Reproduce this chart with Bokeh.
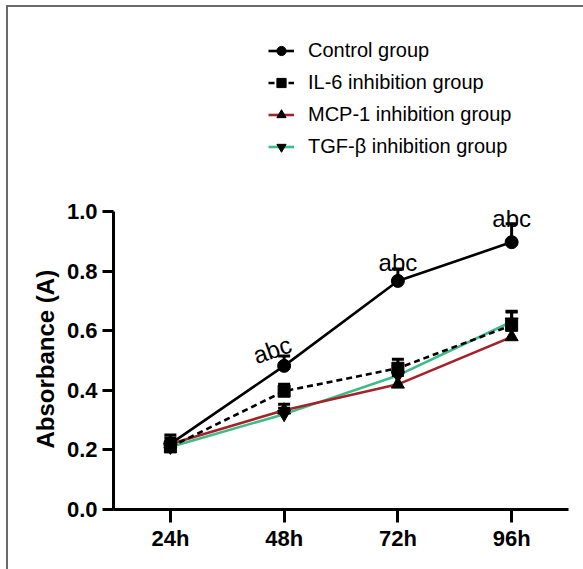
from bokeh.plotting import figure
from bokeh.models import (Range1d, FixedTicker, Whisker, ColumnDataSource, TeeHead,
                          Legend, LegendItem, Label, PrintfTickFormatter, Title)
from bokeh.embed import file_html
from bokeh.resources import INLINE

# ---- data ----
categories = ["24h", "48h", "72h", "96h"]
x_pos = [1, 2, 3, 4]
control = [0.22, 0.482, 0.767, 0.897]
control_err = [0.03, 0.033, 0.04, 0.062]
il6 = [0.21, 0.397, 0.474, 0.618]
il6_err = [0.02, 0.023, 0.03, 0.045]
mcp1 = [0.22, 0.333, 0.42, 0.579]
mcp1_err = [0.02, 0.02, 0.03, 0.03]
tgfb = [0.21, 0.32, 0.45, 0.63]
tgfb_err = [0.01, 0.02, 0.03, 0.035]
y_ticks = [0.0, 0.2, 0.4, 0.6, 0.8, 1.0]
y_label = "Absorbance (A)"
annot_idx = [1, 2, 3]
annot_text = ["abc", "abc", "abc"]

FONT = "Liberation Sans"
RED = "#A3232A"
GREEN = "#3DBB88"
FRAME_GRAY = "#6a6a6a"

FRAME_H = 501          # frame covers the top area too (legend / labels not clipped)
PX_PER_UNIT = 298.0    # pixels per 1.0 absorbance

p = figure(width=583, height=569, output_backend="svg", toolbar_location=None,
           x_range=Range1d(0.5, 4.5), y_range=Range1d(0.0, FRAME_H / PX_PER_UNIT),
           frame_width=455, frame_height=FRAME_H,
           min_border_left=113, min_border_right=15, min_border_top=8, min_border_bottom=60)
p.outline_line_color = None
p.grid.visible = False
p.background_fill_color = "white"
p.border_fill_color = None
p.styles = {
    "background-color": "white",
    "background-image": f"linear-gradient({FRAME_GRAY}, {FRAME_GRAY}), linear-gradient({FRAME_GRAY}, {FRAME_GRAY})",
    "background-size": "2px 100%, 100% 2px",
    "background-position": "6px 5px, 6px 5px",
    "background-repeat": "no-repeat",
}

# axes
p.xaxis.ticker = FixedTicker(ticks=x_pos)
p.xaxis.major_label_overrides = {x: c for x, c in zip(x_pos, categories)}
p.yaxis.ticker = FixedTicker(ticks=y_ticks)
p.yaxis.bounds = (y_ticks[0], y_ticks[-1])
p.yaxis.formatter = PrintfTickFormatter(format="%.1f")
for ax in (p.xaxis, p.yaxis):
    ax.axis_line_width = 3
    ax.axis_line_color = "black"
    ax.major_tick_line_width = 3
    ax.major_tick_line_color = "black"
    ax.major_tick_in = 0
    ax.minor_tick_line_color = None
    ax.major_label_text_font = FONT
    ax.major_label_text_font_style = "bold"
    ax.major_label_text_font_size = "22px"
    ax.major_label_text_color = "black"
p.xaxis.major_tick_out = 13
p.yaxis.major_tick_out = 11
p.xaxis.major_label_standoff = 3
p.yaxis.major_label_standoff = 5

# y axis title, centred on the 0..1 part of the axis
ytitle = Title(text=y_label, align="left", offset=61, standoff=10,
               text_font=FONT, text_font_style="bold", text_font_size="24px",
               text_color="black")
p.add_layout(ytitle, "left")

# lines
l_tgf = p.line(x_pos, tgfb, line_color=GREEN, line_width=2.6)
l_mcp = p.line(x_pos, mcp1, line_color=RED, line_width=2.6)
l_il6 = p.line(x_pos, il6, line_color="black", line_width=2.6, line_dash="6 4")
l_ctl = p.line(x_pos, control, line_color="black", line_width=2.6)

# error bars (upper only)
for vals, errs in ((tgfb, tgfb_err), (mcp1, mcp1_err), (il6, il6_err), (control, control_err)):
    src = ColumnDataSource(dict(x=x_pos, lo=vals, hi=[v + e for v, e in zip(vals, errs)]))
    w = Whisker(base="x", lower="lo", upper="hi", source=src, dimension="height",
                line_color="black", line_width=3,
                upper_head=TeeHead(size=12, line_width=3, line_color="black"),
                lower_head=None, level="glyph")
    p.add_layout(w)

# markers
m_tgf = p.scatter(x_pos, tgfb, marker="inverted_triangle", size=13, color="black")
m_mcp = p.scatter(x_pos, mcp1, marker="triangle", size=13, color="black")
m_il6 = p.scatter(x_pos, il6, marker="square", size=12, color="black")
m_ctl = p.scatter(x_pos, control, marker="circle", size=13, color="black")

# significance annotations
annot_dx = [-12, 0, 0]
annot_dy = [16, 7, 5]
annot_angle = [0.34, 0.0, 0.0]
annot_base = ["middle", "alphabetic", "alphabetic"]
for i, t, dx, dy, ang, bl in zip(annot_idx, annot_text, annot_dx, annot_dy, annot_angle, annot_base):
    yv = control[i] if bl == "middle" else control[i] + control_err[i]
    p.add_layout(Label(x=x_pos[i], y=yv, text=t, x_offset=dx, y_offset=dy, angle=ang,
                       text_align="center", text_baseline=bl, text_font=FONT,
                       text_font_size="24px", text_color="black"))

legend = Legend(items=[
    LegendItem(label="Control group", renderers=[l_ctl, m_ctl]),
    LegendItem(label="IL-6 inhibition group", renderers=[l_il6, m_il6]),
    LegendItem(label="MCP-1 inhibition group", renderers=[l_mcp, m_mcp]),
    LegendItem(label="TGF-β inhibition group", renderers=[l_tgf, m_tgf]),
], location=(155, 351))
legend.padding = 0
legend.margin = 0
legend.border_line_color = None
legend.background_fill_alpha = 0
legend.glyph_width = 26
legend.glyph_height = 23
legend.label_height = 23
legend.spacing = 9
legend.label_standoff = 14
legend.label_text_font = FONT
legend.label_text_font_size = "20px"
legend.label_text_color = "black"
p.add_layout(legend, "center")

open("out.html", "w").write(file_html(p, INLINE))
